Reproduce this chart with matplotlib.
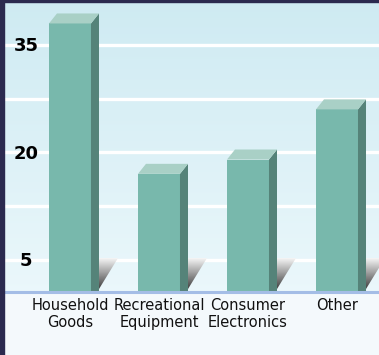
import numpy as np
import matplotlib.pyplot as plt
from matplotlib.patches import Polygon, Rectangle
from matplotlib.transforms import blended_transform_factory

categories = ["Household\nGoods", "Recreational\nEquipment", "Consumer\nElectronics", "Other"]
values = [38, 17, 19, 26]
grid_values = [5, 12.5, 20, 27.5, 35]
tick_values = [5, 20, 35]

W, H = 379, 355
fig = plt.figure(figsize=(W / 100, H / 100), dpi=100)
fig.patch.set_facecolor('#f4f9fc')

ax = fig.add_axes([5 / W, (H - 292) / H, (W - 5) / W, 290 / H])
base = 0.5

# light blue gradient behind the plot
t = np.linspace(0, 1, 256).reshape(-1, 1, 1)
c_top = np.array([0.81, 0.92, 0.95])
c_bot = np.array([0.92, 0.97, 0.985])
bg = c_top + (c_bot - c_top) * t
ax.imshow(bg, extent=[0, 1, 0, 1], transform=ax.transAxes, aspect='auto', zorder=0, origin='upper')

for g in grid_values:
    ax.axhline(g, color='white', lw=2.4, zorder=1)

w = 0.472
dx = 0.09
dy = 1.4
front = '#78b8ac'
side = '#558379'
topc = '#a9d0c6'

for i, v in enumerate(values):
    x0 = i - w / 2
    x1 = i + w / 2
    # shadow wedge at the foot of the side face
    sx = x1 + dx
    tri = Polygon([(sx, base + 0.4), (sx, 5.3), (sx + 0.21, 5.3)], closed=True,
                  facecolor='none', edgecolor='none')
    ax.add_patch(tri)
    vv = np.linspace(1, 0, 60).reshape(-1, 1) * np.ones((1, 20))
    shade = 0.18 + 0.8 * vv
    im = ax.imshow(shade, cmap='gray', vmin=0, vmax=1, extent=[sx, sx + 0.21, base, 5.3],
                   aspect='auto', zorder=2, interpolation='bilinear')
    im.set_clip_path(tri)
    ax.add_patch(Rectangle((x0, base), w, v - base, facecolor=front, edgecolor='none', zorder=3))
    ax.add_patch(Polygon([(x1, base), (x1, v), (x1 + dx, v + dy), (x1 + dx, base)],
                         closed=True, facecolor=side, edgecolor='none', zorder=3))
    ax.add_patch(Polygon([(x0, v), (x0 + dx, v + dy), (x1 + dx, v + dy), (x1, v)],
                         closed=True, facecolor=topc, edgecolor='none', zorder=3))

ax.axhline(base, color='#a4bde6', lw=2.2, zorder=4, clip_on=False)

ax.set_xlim(-0.730, 3.472)
ax.set_ylim(base, 41)
ax.axis('off')

ytr = blended_transform_factory(ax.transAxes, ax.transData)
for tv in tick_values:
    ax.text(0.056, tv - 0.2, str(tv), transform=ytr, ha='center', va='center',
            fontsize=13, fontweight='bold', color='black', zorder=5)

xtr = blended_transform_factory(ax.transData, ax.transAxes)
for i, lab in enumerate(categories):
    ax.text(i, -0.022, lab, transform=xtr, ha='center', va='top', fontsize=10.5,
            linespacing=1.1, color='#111111')

fig.add_artist(Rectangle((0, 0), 4 / W, 1, transform=fig.transFigure, color='#2b2a4f'))
fig.add_artist(Rectangle((0, 1 - 2 / H), 1, 2 / H, transform=fig.transFigure, color='#2b2a4f'))

fig.savefig('out.png', dpi=100, facecolor=fig.get_facecolor())
